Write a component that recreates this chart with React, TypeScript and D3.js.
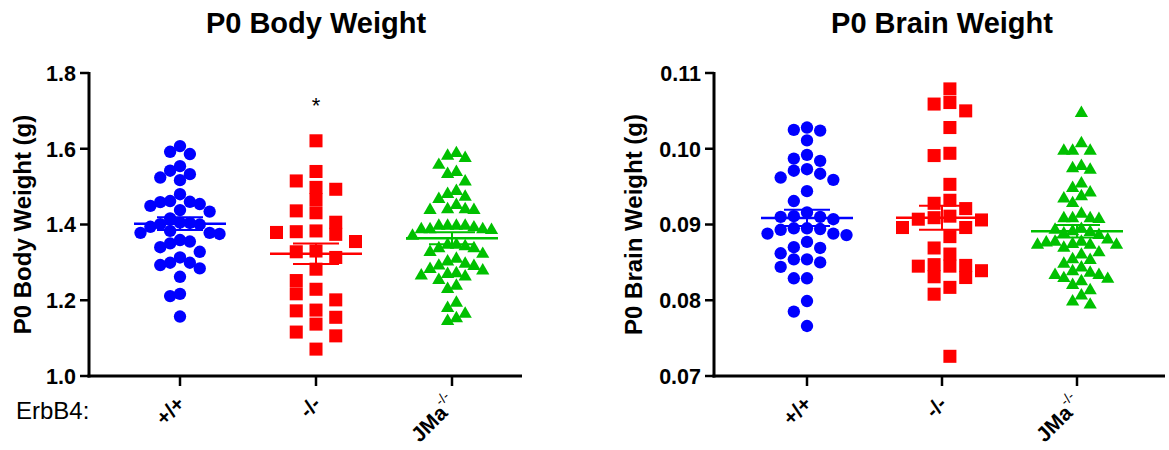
import * as React from "react";
import * as d3 from "d3";

const groups = ["+/+", "-/-", "JMa"];
const colours = ["#0000ff", "#ff0000", "#00c000"];
const shapes = [d3.symbolCircle, d3.symbolSquare, d3.symbolTriangle];
const shapeSizes = [120, 170, 76];

// P0 body weight (g)
const bodyWT = [1.607, 1.592, 1.586, 1.554, 1.542, 1.533, 1.524, 1.517, 1.48, 1.462, 1.46, 1.459, 1.454, 1.449, 1.438, 1.434, 1.416, 1.405, 1.404, 1.401, 1.4, 1.394, 1.383, 1.378, 1.378, 1.375, 1.359, 1.355, 1.35, 1.34, 1.328, 1.313, 1.299, 1.299, 1.293, 1.284, 1.262, 1.217, 1.211, 1.157];
const bodyKO = [1.621, 1.54, 1.515, 1.498, 1.493, 1.466, 1.436, 1.431, 1.406, 1.383, 1.381, 1.379, 1.374, 1.355, 1.33, 1.328, 1.313, 1.282, 1.252, 1.229, 1.217, 1.201, 1.174, 1.172, 1.155, 1.137, 1.116, 1.106, 1.071];
const bodyJMa = [1.588, 1.581, 1.575, 1.557, 1.538, 1.533, 1.513, 1.488, 1.48, 1.473, 1.467, 1.451, 1.44, 1.44, 1.438, 1.438, 1.396, 1.396, 1.396, 1.396, 1.392, 1.387, 1.387, 1.387, 1.385, 1.37, 1.346, 1.346, 1.342, 1.337, 1.337, 1.327, 1.322, 1.309, 1.302, 1.296, 1.291, 1.29, 1.282, 1.278, 1.271, 1.269, 1.265, 1.262, 1.253, 1.238, 1.229, 1.193, 1.179, 1.164, 1.152, 1.145];

// P0 brain weight (g)
const brainWT = [0.1028, 0.1025, 0.1024, 0.1011, 0.0992, 0.0987, 0.0984, 0.0973, 0.0971, 0.0967, 0.0962, 0.0959, 0.0944, 0.0931, 0.0916, 0.0911, 0.091, 0.091, 0.0907, 0.0895, 0.0895, 0.0894, 0.0893, 0.0888, 0.0888, 0.0886, 0.0877, 0.087, 0.0869, 0.0862, 0.0854, 0.0854, 0.085, 0.0844, 0.0829, 0.0829, 0.0799, 0.0785, 0.0766];
const brainKO = [0.1079, 0.1061, 0.1059, 0.105, 0.1028, 0.0994, 0.0991, 0.0953, 0.0932, 0.0928, 0.0921, 0.0911, 0.0909, 0.0907, 0.0906, 0.0896, 0.0896, 0.0884, 0.0869, 0.0861, 0.0847, 0.0846, 0.0845, 0.0845, 0.0839, 0.0831, 0.083, 0.0817, 0.0808, 0.0726];
const brainJMa = [0.1047, 0.1007, 0.0997, 0.0997, 0.0997, 0.0977, 0.0974, 0.0972, 0.0954, 0.0948, 0.0942, 0.0937, 0.0934, 0.0928, 0.0914, 0.0908, 0.0908, 0.0908, 0.0907, 0.0894, 0.0893, 0.0891, 0.089, 0.0888, 0.0886, 0.088, 0.0877, 0.0877, 0.0876, 0.0874, 0.0873, 0.0873, 0.0873, 0.0869, 0.0863, 0.086, 0.0854, 0.0853, 0.0848, 0.0843, 0.0838, 0.0836, 0.0833, 0.0833, 0.0829, 0.0828, 0.0825, 0.082, 0.0813, 0.0806, 0.0798, 0.0794];

const bodyTicks = [1.0, 1.2, 1.4, 1.6, 1.8];
const brainTicks = [0.07, 0.08, 0.09, 0.1, 0.11];

const FONT = "'Liberation Sans', Arial, Helvetica, sans-serif";

// Prism-like column scatter: each point takes the column nearest the centre
// that has no neighbour closer than minDy, then columns are fitted to a width
function swarm(vals: number[], y: (v: number) => number, minDy: number, spread: number, maxStep: number) {
  const pts = vals.map((v) => ({ v, py: y(v), col: 0 })).sort((a, b) => a.py - b.py);
  const placed: { py: number; col: number }[] = [];
  pts.forEach((p) => {
    for (let k = 0; k < 40; k++) {
      const col = k === 0 ? 0 : k % 2 ? -(k + 1) / 2 : k / 2;
      if (!placed.some((q) => q.col === col && Math.abs(q.py - p.py) < minDy)) {
        p.col = col;
        placed.push(p);
        break;
      }
    }
  });
  const lo = d3.min(pts, (p) => p.col) as number;
  const hi = d3.max(pts, (p) => p.col) as number;
  const step = hi > lo ? Math.min(spread / (hi - lo), maxStep) : 0;
  const mid = (lo + hi) / 2;
  return pts.map((p) => ({ ...p, dx: (p.col - mid) * step }));
}

interface IPanelProps {
  title: string;
  yLabel: string;
  data: number[][];
  ticks: number[];
  fmt: string;
  x0: number;
  x1: number;
  cats: [number, number];
  titleX: number;
  star?: boolean;
}

const Panel = (props: IPanelProps) => {
  const { title, yLabel, data, ticks, fmt, x0, x1, cats, titleX, star } = props;
  const top = 73;
  const bottom = 376;
  const y = d3.scaleLinear().domain([ticks[0], ticks[ticks.length - 1]]).range([bottom, top]);
  const x = d3.scalePoint<string>().domain(groups).range(cats);
  const f = d3.format(fmt);

  return (
    <g fontFamily={FONT}>
      <text x={x("-/-")} y={33} textAnchor="middle" fontSize={29} fontWeight="bold">
        {title}
      </text>
      <text
        transform={`translate(${titleX},${(top + bottom) / 2}) rotate(-90)`}
        textAnchor="middle"
        dy="0.35em"
        fontSize={24}
        fontWeight="bold"
      >
        {yLabel}
      </text>

      {data.map((vals, gi) => {
        const cx = x(groups[gi]) as number;
        const pts = swarm(vals, y, 12, 79, 20);
        const sym = d3.symbol().type(shapes[gi]).size(shapeSizes[gi])();
        const m = d3.mean(vals) as number;
        const sem = (d3.deviation(vals) as number) / Math.sqrt(vals.length);
        return (
          <g key={gi} fill={colours[gi]} stroke={colours[gi]}>
            {pts.map((p, i) => (
              <path key={i} d={sym as string} stroke="none" transform={`translate(${cx + p.dx},${p.py})`} />
            ))}
            <line x1={cx - 46} x2={cx + 46} y1={y(m)} y2={y(m)} strokeWidth={2.5} />
            <line x1={cx - 23} x2={cx + 23} y1={y(m + sem)} y2={y(m + sem)} strokeWidth={2} />
            <line x1={cx - 23} x2={cx + 23} y1={y(m - sem)} y2={y(m - sem)} strokeWidth={2} />
            <line x1={cx} x2={cx} y1={y(m + sem)} y2={y(m - sem)} strokeWidth={2} />
          </g>
        );
      })}

      {star && (
        <text x={x("-/-")} y={113} textAnchor="middle" fontSize={22}>
          *
        </text>
      )}

      {/* y axis */}
      <line x1={x0} x2={x0} y1={top - 1} y2={bottom + 1.5} stroke="#000" strokeWidth={3} />
      {ticks.map((t) => (
        <g key={t} transform={`translate(0,${y(t)})`}>
          <line x1={x0 - 9} x2={x0} stroke="#000" strokeWidth={2.5} />
          <text x={x0 - 13} dy="0.36em" textAnchor="end" fontSize={21.5} fontWeight="bold">
            {f(t)}
          </text>
        </g>
      ))}

      {/* x axis */}
      <line x1={x0 - 1.5} x2={x1} y1={bottom} y2={bottom} stroke="#000" strokeWidth={3} />
      {groups.map((g) => {
        const gx = x(g) as number;
        return (
          <g key={g}>
            <line x1={gx} x2={gx} y1={bottom} y2={bottom + 10} stroke="#000" strokeWidth={2.5} />
            <text
              transform={`translate(${gx + 6},${bottom + 29}) rotate(-45)`}
              textAnchor="end"
              fontSize={21}
              fontWeight="bold"
            >
              {g === "JMa" ? (
                <>
                  <tspan>JMa</tspan>
                  <tspan dy={-11} fontSize={14} fontWeight="normal">
                    -/-
                  </tspan>
                </>
              ) : (
                g
              )}
            </text>
          </g>
        );
      })}
    </g>
  );
};

export default function App() {
  return (
    <svg width={1169} height={450} style={{ position: "absolute", left: 0, top: 0, background: "#fff" }}>
      <Panel
        title="P0 Body Weight"
        yLabel="P0 Body Weight (g)"
        data={[bodyWT, bodyKO, bodyJMa]}
        ticks={bodyTicks}
        fmt=".1f"
        x0={89}
        x1={522}
        cats={[180, 452]}
        titleX={23}
        star
      />
      <text x={16} y={419} fontSize={24} fontFamily={FONT}>
        ErbB4:
      </text>
      <Panel
        title="P0 Brain Weight"
        yLabel="P0 Brain Weight (g)"
        data={[brainWT, brainKO, brainJMa]}
        ticks={brainTicks}
        fmt=".2f"
        x0={714}
        x1={1165}
        cats={[807, 1077]}
        titleX={634}
      />
    </svg>
  );
}
